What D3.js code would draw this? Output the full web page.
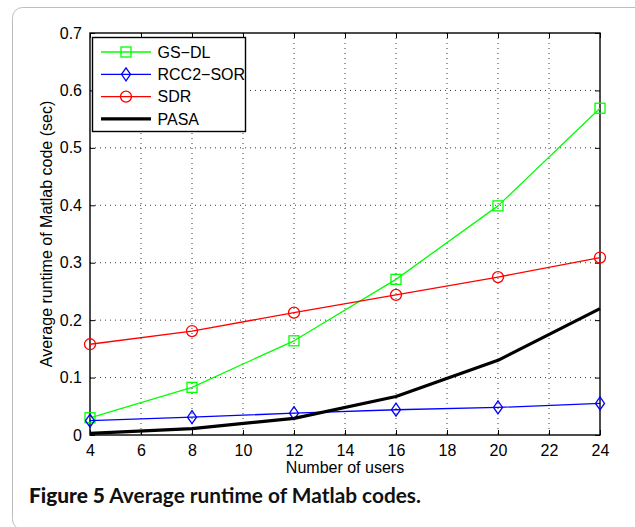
<!DOCTYPE html>
<html>
<head>
<meta charset="utf-8">
<script src="https://cdn.jsdelivr.net/npm/d3@7"></script>
<style>
  body { margin: 0; background: #fff; }
  svg { display: block; }
</style>
</head>
<body>
<svg id="chart" width="635" height="527"></svg>
<script>
(function() {

// data
const users = [4, 8, 12, 16, 20, 24];
const gsdl = [0.030, 0.083, 0.164, 0.271, 0.399, 0.569];
const rcc2sor = [0.025, 0.031, 0.038, 0.044, 0.048, 0.055];
const sdr = [0.158, 0.181, 0.213, 0.244, 0.275, 0.309];
const pasa = [0.003, 0.011, 0.029, 0.067, 0.130, 0.220];

const xTicks = [4, 6, 8, 10, 12, 14, 16, 18, 20, 22, 24];
const yTicks = [0, 0.1, 0.2, 0.3, 0.4, 0.5, 0.6, 0.7];

const series = [
    {name: 'GS\u2212DL', values: gsdl, color: '#00ff00', marker: 'square', width: 1.3},
    {name: 'RCC2\u2212SOR', values: rcc2sor, color: '#0000ff', marker: 'diamond', width: 1.3},
    {name: 'SDR', values: sdr, color: '#ff0000', marker: 'circle', width: 1.3},
    {name: 'PASA', values: pasa, color: '#000000', marker: null, width: 3.2}
];

const svg = d3.select('#chart');
const font = '"Liberation Sans", Arial, Helvetica, sans-serif';

// outer rounded frame of the figure panel
svg.append('rect')
    .attr('x', 12.5).attr('y', 7.5)
    .attr('width', 660).attr('height', 522)
    .attr('rx', 10).attr('ry', 10)
    .attr('fill', 'none')
    .attr('stroke', '#bdbdbd')
    .attr('stroke-width', 1);

const margin = {top: 33, left: 90, right: 35, bottom: 92},
    width = 635 - margin.left - margin.right,
    height = 527 - margin.top - margin.bottom;

const g = svg.append('g')
    .attr('transform', 'translate(' + margin.left + ',' + margin.top + ')');

const x = d3.scaleLinear().domain([4, 24]).range([0, width]);
const y = d3.scaleLinear().domain([0, 0.7]).range([height, 0]);

// dotted grid
g.append('g').selectAll('line')
    .data(xTicks.slice(1, -1))
  .enter().append('line')
    .attr('x1', d => x(d)).attr('x2', d => x(d))
    .attr('y1', 0).attr('y2', height)
    .attr('stroke', '#222').attr('stroke-width', 0.9)
    .attr('stroke-dasharray', '1,4');

g.append('g').selectAll('line')
    .data(yTicks.slice(1, -1))
  .enter().append('line')
    .attr('x1', 0).attr('x2', width)
    .attr('y1', d => y(d)).attr('y2', d => y(d))
    .attr('stroke', '#222').attr('stroke-width', 0.9)
    .attr('stroke-dasharray', '1,4');

// axes, ticks pointing inward like matlab
const tickLen = 5;
const axB = g.append('g')
    .attr('transform', 'translate(0,' + height + ')')
    .call(d3.axisBottom(x).tickValues(xTicks).tickSize(-tickLen).tickPadding(10).tickSizeOuter(0));
const axT = g.append('g')
    .call(d3.axisTop(x).tickValues(xTicks).tickSize(-tickLen).tickFormat('').tickSizeOuter(0));
const axL = g.append('g')
    .call(d3.axisLeft(y).tickValues(yTicks).tickSize(-tickLen).tickPadding(8)
        .tickFormat(d => d === 0 ? '0' : d3.format('.1f')(d)).tickSizeOuter(0));
const axR = g.append('g')
    .attr('transform', 'translate(' + width + ',0)')
    .call(d3.axisRight(y).tickValues(yTicks).tickSize(-tickLen).tickFormat('').tickSizeOuter(0));

[axB, axT, axL, axR].forEach(function(a) {
    a.selectAll('.domain').remove();
    a.selectAll('line').attr('stroke', '#000').attr('stroke-width', 1);
    a.selectAll('text').attr('font-family', font).attr('font-size', 16).attr('fill', '#000');
});

g.append('rect')
    .attr('width', width).attr('height', height)
    .attr('fill', 'none').attr('stroke', '#000').attr('stroke-width', 1.4);

// series lines
const line = d3.line()
    .x(function(d, i) { return x(users[i]); })
    .y(function(d) { return y(d); });

function drawMarker(sel, type, color) {
    if (type === 'square') {
        sel.append('rect')
            .attr('x', -5).attr('y', -5).attr('width', 10).attr('height', 10)
            .attr('fill', 'none').attr('stroke', color).attr('stroke-width', 1.3);
    } else if (type === 'diamond') {
        sel.append('path')
            .attr('d', 'M0,-6.5L4.5,0L0,6.5L-4.5,0Z')
            .attr('fill', 'none').attr('stroke', color).attr('stroke-width', 1.3);
    } else if (type === 'circle') {
        sel.append('circle')
            .attr('r', 5.5)
            .attr('fill', 'none').attr('stroke', color).attr('stroke-width', 1.3);
    }
}

series.forEach(function(s) {
    g.append('path')
        .datum(s.values)
        .attr('d', line)
        .attr('fill', 'none')
        .attr('stroke', s.color)
        .attr('stroke-width', s.width)
        .attr('stroke-linejoin', 'round');

    if (s.marker) {
        g.append('g').selectAll('g')
            .data(s.values)
          .enter().append('g')
            .attr('transform', function(d, i) { return 'translate(' + x(users[i]) + ',' + y(d) + ')'; })
            .each(function() { drawMarker(d3.select(this), s.marker, s.color); });
    }
});

// legend
const legend = g.append('g').attr('transform', 'translate(2.5,4.5)');
legend.append('rect')
    .attr('x', 0).attr('y', 0).attr('width', 153).attr('height', 94)
    .attr('fill', '#fff').attr('stroke', '#000').attr('stroke-width', 1.4);

const entries = legend.selectAll('.entry')
    .data(series)
  .enter().append('g')
    .attr('class', 'entry')
    .attr('transform', function(d, i) { return 'translate(0,' + (14.5 + i * 22.3) + ')'; });

entries.append('line')
    .attr('x1', 8.5).attr('x2', 58.5)
    .attr('stroke', d => d.color)
    .attr('stroke-width', d => d.width);

entries.each(function(d) {
    if (d.marker) {
        const m = d3.select(this).append('g').attr('transform', 'translate(33.5,0)');
        drawMarker(m, d.marker, d.color);
    }
});

entries.append('text')
    .attr('x', 65)
    .attr('dy', '0.36em')
    .attr('font-family', font)
    .attr('font-size', 16)
    .text(d => d.name);

// axis titles
svg.append('text')
    .attr('x', margin.left + width / 2)
    .attr('y', 473)
    .attr('text-anchor', 'middle')
    .attr('font-family', font)
    .attr('font-size', 16)
    .text('Number of users');

svg.append('text')
    .attr('transform', 'translate(52,' + (margin.top + height / 2) + ') rotate(-90)')
    .attr('text-anchor', 'middle')
    .attr('font-family', font)
    .attr('font-size', 16)
    .text('Average runtime of Matlab code (sec)');

// caption
const cap = svg.append('text')
    .attr('x', 29)
    .attr('y', 503)
    .attr('font-family', 'Lato, "Open Sans", sans-serif')
    .attr('font-size', 20)
    .attr('font-weight', 'bold')
    .attr('fill', '#111')
    .attr('textLength', 392)
    .attr('lengthAdjust', 'spacingAndGlyphs');
cap.append('tspan').attr('font-weight', 900).text('Figure 5');
cap.append('tspan').text(' Average runtime of Matlab codes.');

})();
</script>
</body>
</html>
